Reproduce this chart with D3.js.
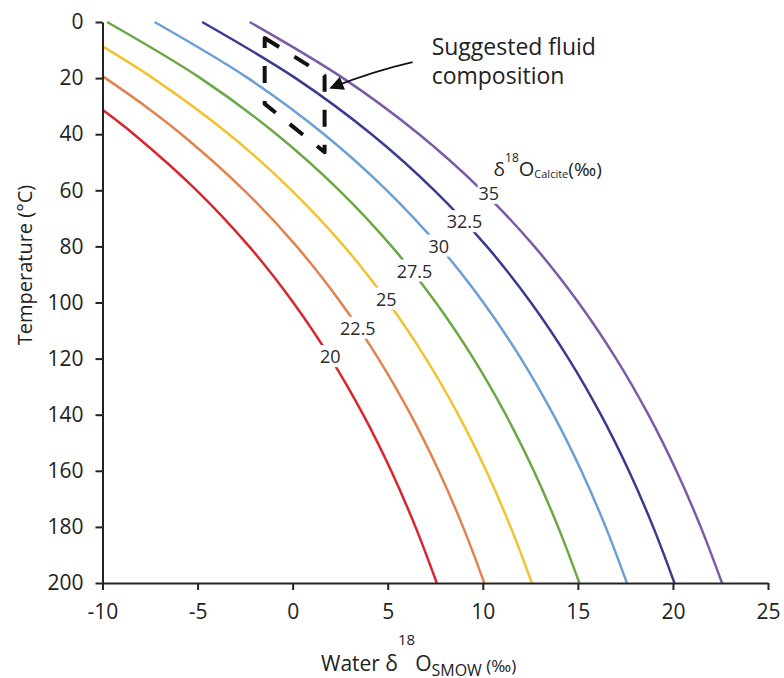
<!DOCTYPE html>
<html>
<head>
<meta charset="utf-8">
<script src="https://cdn.jsdelivr.net/npm/d3@7"></script>
<style>
  html, body { margin: 0; padding: 0; background: #fff; }
  svg { display: block; font-family: "Open Sans", "Noto Sans", sans-serif; }
</style>
</head>
<body>
<svg id="chart" width="784" height="678"></svg>
<script>
// ---------------- DATA ----------------
const calciteValues = [20, 22.5, 25, 27.5, 30, 32.5, 35];
const curveColors = ["#d8262d", "#e2834f", "#f2c231", "#6aa845", "#6b9fd6", "#393c8d", "#7c5ba6"];

// each curve: [water d18O SMOW, temperature °C]
const curve20   = [[-10, 31.3], [-8.35, 40], [-5.05, 60], [-2.29, 80], [0.03, 100], [2.01, 120], [3.71, 140], [5.18, 160], [6.46, 180], [7.58, 200]];
const curve22_5 = [[-10, 19.3], [-7.75, 30], [-5.85, 40], [-2.55, 60], [0.21, 80], [2.53, 100], [4.51, 120], [6.21, 140], [7.68, 160], [8.96, 180], [10.08, 200]];
const curve25   = [[-10, 8.7], [-7.35, 20], [-3.35, 40], [-0.05, 60], [2.71, 80], [5.03, 100], [7.01, 120], [8.71, 140], [10.18, 160], [11.46, 180], [12.58, 200]];
const curve27_5 = [[-9.76, 0], [-4.85, 20], [-0.85, 40], [2.45, 60], [5.21, 80], [7.53, 100], [9.51, 120], [11.21, 140], [12.68, 160], [13.96, 180], [15.08, 200]];
const curve30   = [[-7.26, 0], [-2.35, 20], [1.65, 40], [4.95, 60], [7.71, 80], [10.03, 100], [12.01, 120], [13.71, 140], [15.18, 160], [16.46, 180], [17.58, 200]];
const curve32_5 = [[-4.76, 0], [0.15, 20], [4.15, 40], [7.45, 60], [10.21, 80], [12.53, 100], [14.51, 120], [16.21, 140], [17.68, 160], [18.96, 180], [20.08, 200]];
const curve35   = [[-2.26, 0], [2.65, 20], [6.65, 40], [9.95, 60], [12.71, 80], [15.03, 100], [17.01, 120], [18.71, 140], [20.18, 160], [21.46, 180], [22.58, 200]];
const curves = [curve20, curve22_5, curve25, curve27_5, curve30, curve32_5, curve35];

// in-line curve labels (centre positions, data units)
const labelText  = ["20", "22.5", "25", "27.5", "30", "32.5", "35"];
const labelWater = [1.98, 3.43, 4.93, 6.41, 7.68, 9.04, 10.32];
const labelTemp  = [119.3, 109.2, 98.8, 88.8, 79.9, 71.2, 61.1];

// axis ticks
const xTicks = [-10, -5, 0, 5, 10, 15, 20, 25];
const yTicks = [0, 20, 40, 60, 80, 100, 120, 140, 160, 180, 200];

// suggested fluid composition box (data units, corners)
const boxWater = [-1.47, 1.68, 1.68, -1.47];
const boxTemp  = [5.7, 19.1, 46.4, 29.2];
// annotation arrow: tail -> tip
const arrowWater = [6.31, 2.0];
const arrowTemp  = [14.3, 23.5];
const noteLines = ["Suggested fluid", "composition"];

// ---------------- CHART ----------------
const svg = d3.select("#chart");
const x = d3.scaleLinear().domain([-10, 25]).range([102.5, 768]);
const y = d3.scaleLinear().domain([0, 200]).range([22, 583]);

// curves
const line = d3.line().x(d => x(d[0])).y(d => y(d[1])).curve(d3.curveCatmullRom.alpha(0.5));
svg.append("g").selectAll("path").data(curves).join("path")
  .attr("d", line)
  .attr("fill", "none")
  .attr("stroke", (d, i) => curveColors[i])
  .attr("stroke-width", 2.5);

// curve labels with white knock-out
const lg = svg.append("g");
labelText.forEach((t, i) => {
  const g = lg.append("g");
  const tx = g.append("text")
    .attr("x", x(labelWater[i])).attr("y", y(labelTemp[i]))
    .attr("text-anchor", "middle").attr("dy", "0.36em")
    .attr("font-size", 18).attr("fill", "#2b2b2b").text(t);
  const bb = tx.node().getBBox();
  g.insert("rect", "text")
    .attr("x", bb.x - 1).attr("y", bb.y + 1)
    .attr("width", bb.width + 2).attr("height", bb.height - 2)
    .attr("fill", "#fff");
});

// axes
const xAxis = svg.append("g").attr("transform", `translate(0,${y(200)})`)
  .call(d3.axisBottom(x).tickValues(xTicks).tickSize(7).tickSizeOuter(0).tickPadding(14).tickFormat(d3.format("d")));
const yAxis = svg.append("g").attr("transform", `translate(${x(-10)},0)`)
  .call(d3.axisLeft(y).tickValues(yTicks).tickSize(7).tickSizeOuter(0).tickPadding(12).tickFormat(d3.format("d")));
[xAxis, yAxis].forEach(a => {
  a.select(".domain").attr("stroke", "#222").attr("stroke-width", 2);
  a.selectAll(".tick line").attr("stroke", "#222").attr("stroke-width", 2);
  a.selectAll(".tick text").attr("font-size", 21).attr("fill", "#222")
    .attr("font-family", "'Open Sans', sans-serif");
});
xAxis.selectAll(".tick text").text(d => d < 0 ? "-" + Math.abs(d) : d);

// axis titles
const xt = svg.append("text").attr("x", 321).attr("y", 671).attr("fill", "#222");
xt.append("tspan").attr("font-size", 21).text("Water δ");
xt.append("tspan").attr("font-size", 15).attr("dy", -26).text("18");
xt.append("tspan").attr("font-size", 21).attr("dy", 26).text("O");
xt.append("tspan").attr("font-size", 16).attr("dy", 5).text("SMOW");
xt.append("tspan").attr("font-size", 17).attr("dy", -4).text(" (‰)");

svg.append("text")
  .attr("transform", `translate(25,265) rotate(-90)`)
  .attr("text-anchor", "middle").attr("dy", "0.35em")
  .attr("font-size", 20).attr("fill", "#222")
  .text("Temperature  (°C)");

// calcite legend title
const ct = svg.append("text").attr("x", x(10.57)).attr("y", y(54.9)).attr("fill", "#222");
ct.append("tspan").attr("font-size", 19).text("δ");
ct.append("tspan").attr("font-size", 12).attr("dy", -14).text("18");
ct.append("tspan").attr("font-size", 20).attr("dy", 14).text("O");
ct.append("tspan").attr("font-size", 11).attr("dy", 2).text("Calcite");
ct.append("tspan").attr("font-size", 19).attr("dy", -2).text("(‰)");

// dashed box
const boxPts = boxWater.map((w, i) => [x(w), y(boxTemp[i])]);
svg.append("path")
  .attr("d", d3.line()(boxPts) + "Z")
  .attr("fill", "none").attr("stroke", "#111").attr("stroke-width", 4)
  .attr("stroke-dasharray", "17,18").attr("stroke-linejoin", "round");

// arrow
svg.append("defs").append("marker")
  .attr("id", "ah").attr("viewBox", "0 0 10 10").attr("refX", 9).attr("refY", 5)
  .attr("markerWidth", 16).attr("markerHeight", 14).attr("markerUnits", "userSpaceOnUse")
  .attr("orient", "auto")
  .append("path").attr("d", "M0,0 L10,5 L0,10 Z").attr("fill", "#111");
const ax0 = x(arrowWater[0]), ay0 = y(arrowTemp[0]), ax1 = x(arrowWater[1]), ay1 = y(arrowTemp[1]);
svg.append("path")
  .attr("d", `M${ax0},${ay0} Q${(ax0 + ax1) / 2 + 2},${(ay0 + ay1) / 2 - 4} ${ax1},${ay1}`)
  .attr("fill", "none").attr("stroke", "#111").attr("stroke-width", 1.8)
  .attr("marker-end", "url(#ah)");

// note text
const nt = svg.append("text").attr("x", x(7.31)).attr("y", y(11.76)).attr("font-size", 23).attr("fill", "#222");
noteLines.forEach((t, i) => nt.append("tspan").attr("x", x(7.31)).attr("dy", i === 0 ? 0 : 29).text(t));
</script>
</body>
</html>
